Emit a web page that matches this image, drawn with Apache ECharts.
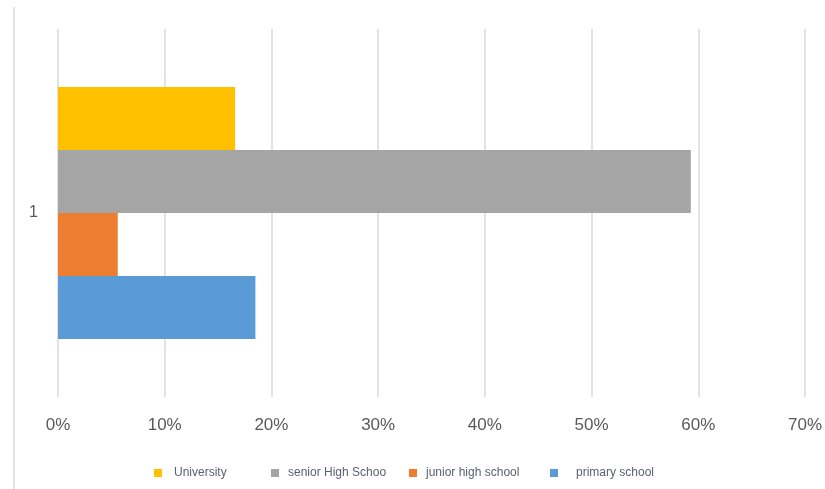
<!DOCTYPE html>
<html>
<head>
<meta charset="utf-8">
<style>html,body{margin:0;padding:0;background:#fff;}#c{width:825px;height:489px;}</style>
<script src="https://cdn.jsdelivr.net/npm/echarts@6/dist/echarts.min.js"></script>
</head>
<body>
<div id="c"></div>
<script>
const categories = ['1'];
const seriesNames = ['University', 'senior High Schoo', 'junior high school', 'primary school'];
const university = [0.166];
const seniorHigh = [0.593];
const juniorHigh = [0.056];
const primary = [0.185];
const xTicks = [0, 0.1, 0.2, 0.3, 0.4, 0.5, 0.6, 0.7];

const colors = ['#FFC000', '#A5A5A5', '#ED7D31', '#5B9BD5'];
const values = [university, seniorHigh, juniorHigh, primary];
const legendLefts = [154, 271, 409, 550];
const legendTextPad = [7, 4, 4, 13];
const font = 'Liberation Sans, Arial, sans-serif';

const chart = echarts.init(document.getElementById('c'));
chart.setOption({
  animation: false,
  backgroundColor: '#fff',
  grid: { left: 58, right: 20, top: 29, bottom: 92, containLabel: false },
  xAxis: {
    type: 'value', min: 0, max: xTicks[xTicks.length - 1], interval: 0.1,
    axisLine: { show: false }, axisTick: { show: false },
    splitLine: { lineStyle: { color: '#d9d9d9', width: 1.5 } },
    axisLabel: { color: '#595959', fontSize: 17, fontFamily: font, margin: 20,
      formatter: v => Math.round(v * 100) + '%' }
  },
  yAxis: {
    type: 'category', data: categories,
    axisLine: { show: false }, axisTick: { show: false },
    axisLabel: { color: '#595959', fontSize: 16, fontFamily: font, margin: 20 }
  },
  legend: seriesNames.map((n, i) => ({
    data: [n], left: legendLefts[i], top: 467, padding: 0, itemWidth: 8, itemHeight: 8, icon: 'rect',
    itemGap: 0,
    textStyle: { color: '#5a6070', fontSize: 12, fontFamily: font, padding: [0, 0, 0, legendTextPad[i]] }
  })),
  graphic: [{ type: 'line', shape: { x1: 14, y1: 7, x2: 14, y2: 489 }, style: { stroke: '#d9d9d9', lineWidth: 1.5 } }],
  series: seriesNames.map((n, i) => ({
    name: n, type: 'bar', data: values[i], barWidth: 63, barGap: '0%',
    itemStyle: { color: colors[i] }
  }))
});
</script>
</body>
</html>
